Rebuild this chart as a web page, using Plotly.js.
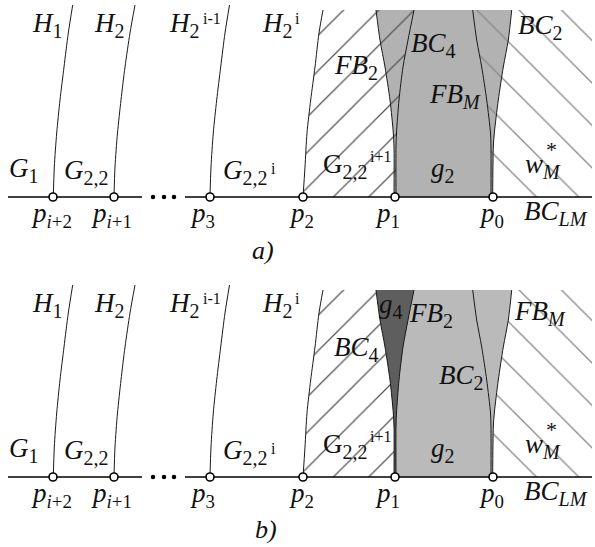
<!DOCTYPE html>
<html><head><meta charset="utf-8">
<script src="https://cdn.plot.ly/plotly-3.0.1.min.js"></script>
<style>html,body{margin:0;padding:0;background:#fff}</style>
</head><body>
<div id="chart" style="width:595px;height:547px"></div>
<script>
// ---- geometry (panel-local coords: x right, y down) ----
const baseY = 197;
const topY = 10;
const rightX = 592;
const pointX = [53, 114, 210, 303, 395, 493];
const pointLabels = ['<i>p</i><sub><i>i</i>+2</sub>', '<i>p</i><sub><i>i</i>+1</sub>', '<i>p</i><sub>3</sub>', '<i>p</i><sub>2</sub>', '<i>p</i><sub>1</sub>', '<i>p</i><sub>0</sub>'];
const pointLabelX = [51, 111, 202, 301, 387, 491];
const pointLabelY = 215;
const ellipsisX = [153, 164, 174];
const baseSeg1X = [8, 142];
const baseSeg2X = [185, 592];

const curveY = [197, 167, 133, 100, 67, 33, 5];
const h1X = [53.3, 54.3, 56.7, 60, 64, 68.3, 72.7];
const h2X = [114, 115, 117.5, 121, 125, 130, 135];
const h3X = [210, 211, 213.3, 216.7, 220.7, 225, 229.5];
const h4Y = [197, 167, 133, 100, 67, 33, 10];
const h4X = [303, 305, 307, 310.7, 315, 319, 323];

const edgeY = [197, 147, 133, 100, 67, 40, 10];
const outerLeftX = [394, 394, 393.3, 390, 385, 380, 376];
const innerLeftX = [396, 396, 396.5, 399, 403, 408, 414];
const outerRightX = [492.7, 493.3, 494.3, 498.3, 503.3, 508.3, 511.7];
const innerRightX = [491, 491, 490.5, 486.7, 481.7, 476.7, 472.7];

// labels
const S = t => '<sub><span style="font-size:20px">' + t + '</span></sub>';
const commonText = ['<i>H</i>' + S('1'), '<i>H</i>' + S('2'), '<i>H</i>' + S('2'), '<i>H</i>' + S('2'),
  '<i>G</i>' + S('1'), '<i>G</i>' + S('2,2'), '<i>G</i>' + S('2,2'), 'G' + S('2,2'),
  '<i>g</i>' + S('2'), '<i>w</i>' + S('<i>M</i>'), '<i>BC</i>' + S('<i>LM</i>')];
const commonX = [47, 109, 184, 277, 24, 86, 245, 345, 443, 543, 556];
const commonY = [25, 25, 25, 25, 170, 172, 172, 166, 170, 166, 213];
const supText = ['i-1', 'i', 'i', 'i+1', '*'];
const supX = [212, 297, 273, 380, 551];
const supY = [18, 18, 168, 156, 149];
const supSize = [16, 16, 16, 16, 22];

const aText = ['<i>FB</i>' + S('2'), '<i>BC</i>' + S('4'), '<i>FB</i>' + S('<i>M</i>'), '<i>BC</i>' + S('2'), '<i>a)</i>'];
const aX = [356, 433, 455, 540, 263];
const aY = [67, 45, 96, 27, 250];
const bText = ['<i>g</i>' + S('4'), '<i>FB</i>' + S('2'), '<i>FB</i>' + S('<i>M</i>'), '<i>BC</i>' + S('4'), '<i>BC</i>' + S('2'), '<i>b)</i>'];
const bX = [391, 431, 540, 356, 461, 266];
const bY = [26, 35, 33, 69, 97, 249];

const grayA = '#b2b2b2', grayB = '#bababa', darkB = '#5e5e5e';

const rev = a => a.slice().reverse();
const traces = [];
function line(x, y, ya, opt) {
  traces.push(Object.assign({type: 'scatter', mode: 'lines', x: x, y: y, yaxis: ya, hoverinfo: 'skip',
    line: {color: '#1a1a1a', width: 1}}, opt || {}));
}
function poly(x, y, ya, opt) {
  traces.push(Object.assign({type: 'scatter', mode: 'lines', x: x, y: y, yaxis: ya, fill: 'toself',
    line: {width: 0, color: 'rgba(0,0,0,0)'}, hoverinfo: 'skip'}, opt));
}
const hatchL = {shape: '/', size: 25, solidity: 0.05, fgcolor: '#555', bgcolor: 'rgba(0,0,0,0)'};
const hatchR = {shape: '\\', size: 30, solidity: 0.045, fgcolor: '#8a8a8a', bgcolor: 'rgba(0,0,0,0)'};

['y', 'y2'].forEach((ya, k) => {
  const b = k === 1;
  poly(rev(outerLeftX).concat(outerRightX), rev(edgeY).concat(edgeY), ya, {fillcolor: b ? grayB : grayA});
  if (b) poly(rev(outerLeftX).concat(innerLeftX), rev(edgeY).concat(edgeY), ya, {fillcolor: darkB});
  const lEdge = b ? outerLeftX : innerLeftX;
  const rEdge = b ? outerRightX : innerRightX;
  poly(h4X.concat(rev(lEdge)), h4Y.concat(rev(edgeY)), ya, {fillcolor: 'rgba(0,0,0,0)', fillpattern: hatchL});
  poly(rEdge.concat([rightX, rightX]), edgeY.concat([topY, baseY]), ya, {fillcolor: 'rgba(0,0,0,0)', fillpattern: hatchR});
  const sp = {line: {color: '#1a1a1a', width: 1, shape: 'spline', smoothing: 0.8}};
  line(h1X, curveY, ya, sp); line(h2X, curveY, ya, sp); line(h3X, curveY, ya, sp); line(h4X, h4Y, ya, sp);
  line(outerLeftX, edgeY, ya, sp); line(innerLeftX, edgeY, ya, sp);
  line(outerRightX, edgeY, ya, sp); line(innerRightX, edgeY, ya, sp);
  line(baseSeg1X, [baseY, baseY], ya, {line: {color: '#000', width: 1.5}});
  line(baseSeg2X, [baseY, baseY], ya, {line: {color: '#000', width: 1.5}});
  traces.push({type: 'scatter', mode: 'markers', x: ellipsisX, y: ellipsisX.map(() => baseY), yaxis: ya,
    marker: {color: '#000', size: 4.5}, hoverinfo: 'skip'});
  traces.push({type: 'scatter', mode: 'markers', x: pointX, y: pointX.map(() => baseY), yaxis: ya,
    marker: {color: '#fff', size: 8, line: {color: '#000', width: 1.6}}, hoverinfo: 'skip', cliponaxis: false});
});

const annotations = [];
const FAM = 'Liberation Serif';
function ann(t, x, y, yref, size) {
  annotations.push({text: t, x: x, y: y, xref: 'x', yref: yref, showarrow: false, xanchor: 'center', yanchor: 'middle',
    font: {family: FAM, size: size || 27, color: '#111'}});
}
['y', 'y2'].forEach(yr => {
  commonText.forEach((t, i) => ann(t, commonX[i], commonY[i], yr));
  supText.forEach((t, i) => ann(t, supX[i], supY[i], yr, supSize[i]));
  pointLabels.forEach((t, i) => ann(t, pointLabelX[i], pointLabelY, yr));
});
aText.forEach((t, i) => ann(t, aX[i], aY[i], 'y', i === 4 ? 26 : 27));
bText.forEach((t, i) => ann(t, bX[i], bY[i], 'y2', i === 5 ? 26 : 27));

const split = 1 - 280 / 547;
const layout = {
  width: 595, height: 547, margin: {l: 0, r: 0, t: 0, b: 0},
  paper_bgcolor: '#fff', plot_bgcolor: '#fff', showlegend: false,
  font: {family: FAM},
  xaxis: {range: [0, 595], visible: false, fixedrange: true},
  yaxis: {range: [280, 0], domain: [split, 1], visible: false, fixedrange: true},
  yaxis2: {range: [267, 0], domain: [0, split], visible: false, fixedrange: true},
  annotations: annotations
};
Plotly.newPlot('chart', traces, layout, {staticPlot: true, displayModeBar: false});
</script>
</body></html>
